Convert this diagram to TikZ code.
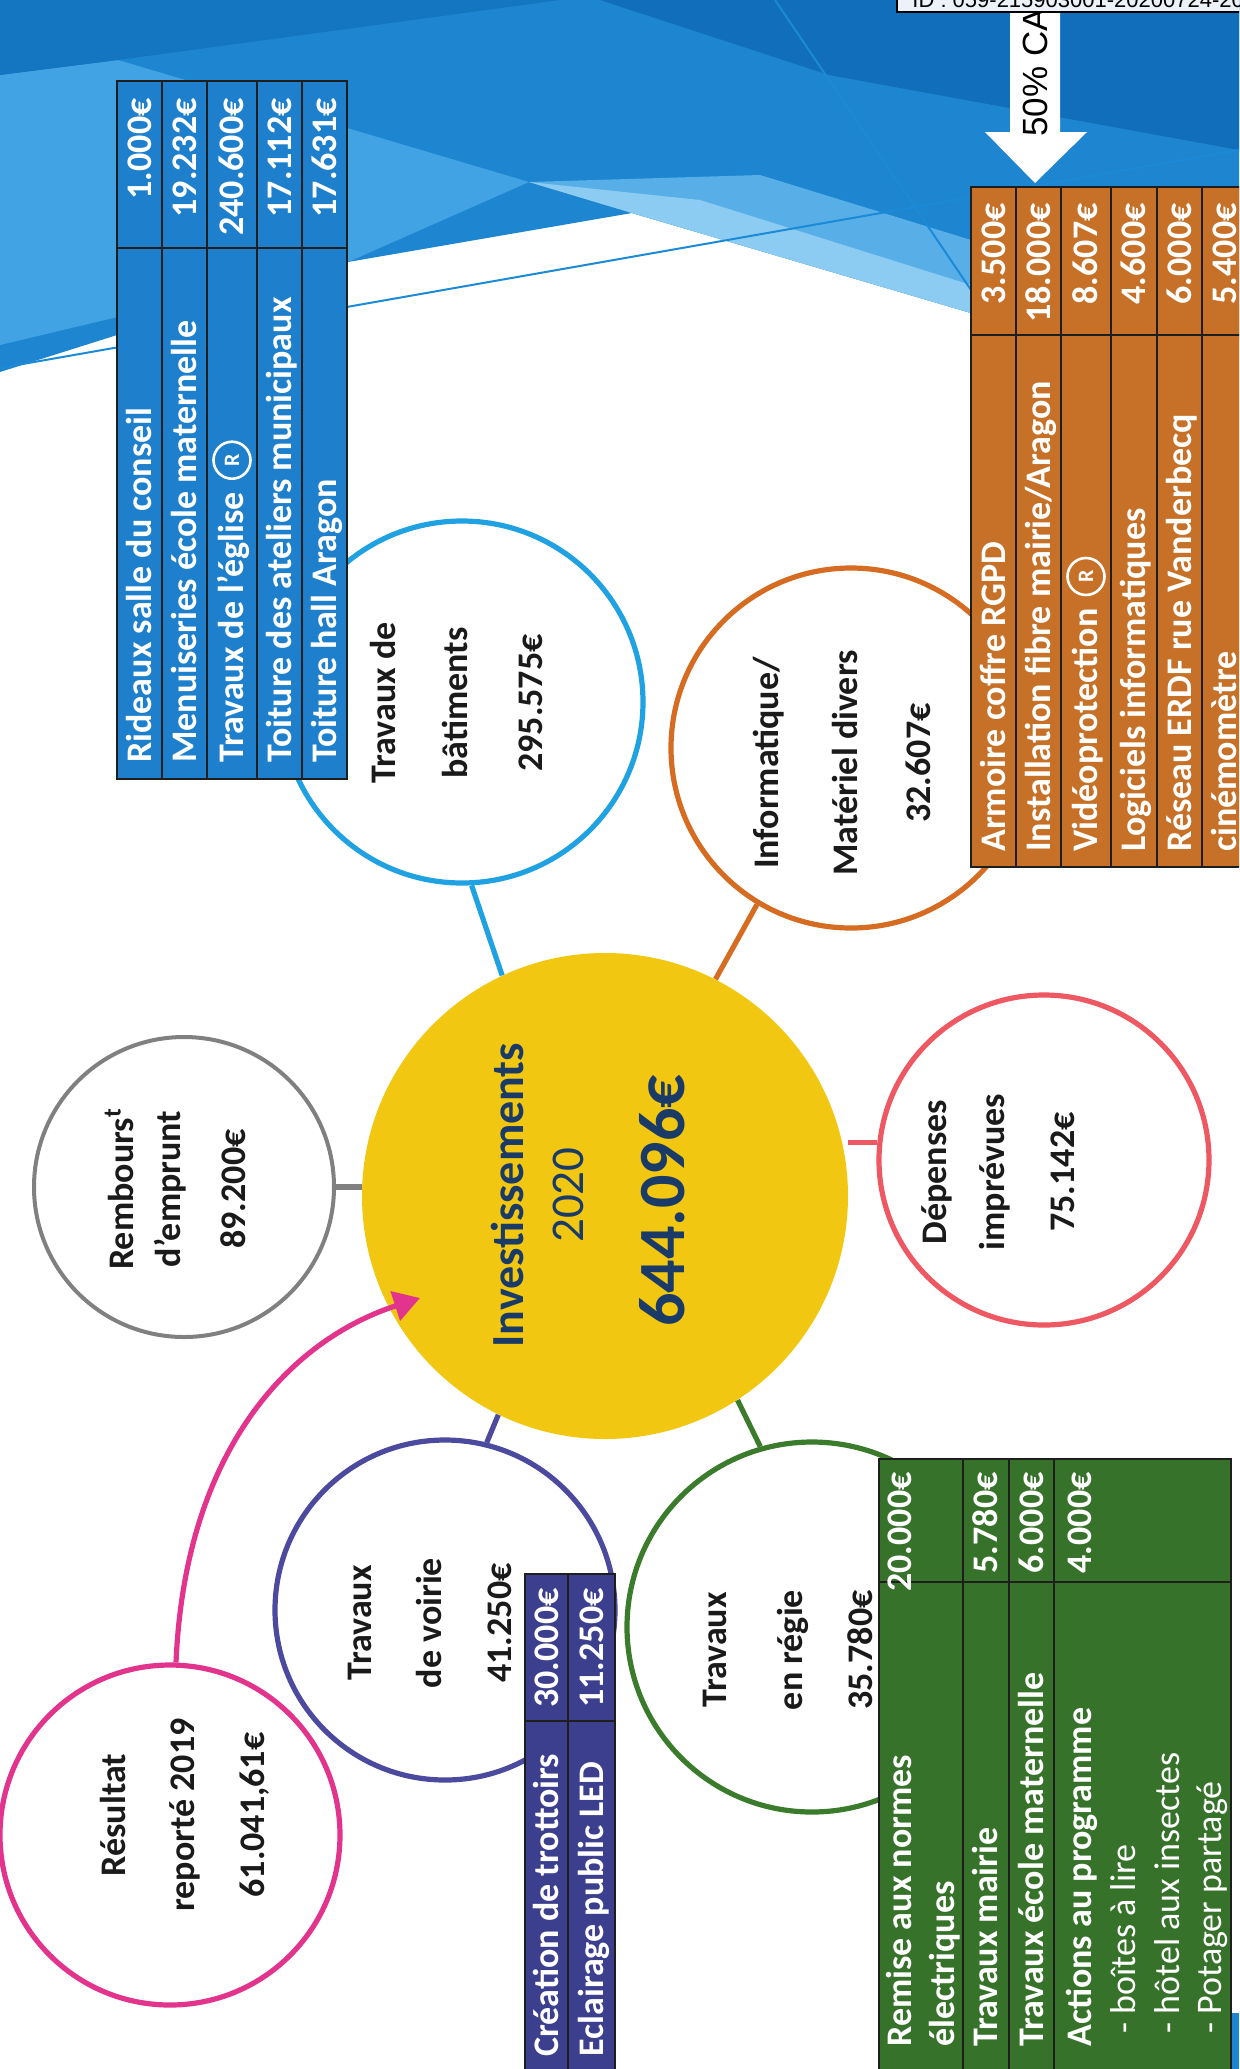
\documentclass[tikz,border=0pt]{standalone}
\usepackage{fontspec}
\setmainfont{Carlito}
\newfontfamily\sansarial{Liberation Sans}
\usetikzlibrary{calc,arrows.meta}

\definecolor{tblue}{RGB}{30,128,204}
\definecolor{torange}{RGB}{198,112,40}
\definecolor{tgreen}{RGB}{54,114,42}
\definecolor{tpurple}{RGB}{60,63,142}
\definecolor{cblue}{RGB}{32,162,226}
\definecolor{corange}{RGB}{214,108,34}
\definecolor{cred}{RGB}{238,88,98}
\definecolor{cgreen}{RGB}{58,124,44}
\definecolor{cpurple}{RGB}{76,74,158}
\definecolor{cmagenta}{RGB}{226,52,140}
\definecolor{cgray}{RGB}{128,128,128}
\definecolor{cyellow}{RGB}{241,199,18}
\definecolor{navy}{RGB}{26,58,104}
\definecolor{bgdark}{RGB}{16,110,186}
\definecolor{bgmid}{RGB}{30,134,208}
\definecolor{bglight}{RGB}{66,163,228}
\definecolor{bgpale}{RGB}{140,204,242}
\definecolor{bgline}{RGB}{28,138,214}
\definecolor{tline}{RGB}{30,30,30}
\definecolor{idfill}{RGB}{236,242,248}
\definecolor{ctext}{RGB}{26,26,26}

\newcommand\tabfont{\bfseries\fontsize{18}{22}\selectfont}
\newcommand\tabfontr{\fontsize{18}{22}\selectfont}
\newcommand\circfont{\bfseries\fontsize{18}{36}\selectfont}

\tikzset{
  cell/.style={rotate=90, inner sep=0pt, text=white, font=\tabfont, text height=11.6pt, text depth=0pt},
  lbl/.style={cell, anchor=west},
  lblr/.style={cell, anchor=west, font=\tabfontr},
  val/.style={cell, anchor=east},
  gridline/.style={draw=tline, line width=0.8pt},
  ring/.style={circle, draw=#1, line width=2.6pt, fill=white, inner sep=0pt},
  link/.style={draw=#1, line width=2.6pt},
  ctxt/.style={rotate=90, align=center, font=\circfont, text=ctext, inner sep=0pt},
  regmark/.style={circle, draw=white, line width=1.3pt, inner sep=0pt, minimum size=18.5pt, text=white, font=\bfseries\fontsize{11}{11}\selectfont, rotate=90, anchor=west},
}

\begin{document}
\begin{tikzpicture}[x=0.5pt,y=-0.5pt]
\useasboundingbox (0,0) rectangle (1239,2069);
\clip (0,0) rectangle (1239,2069);

% ---------- background ----------
\fill[bgmid] (0,0) -- (1239,0) -- (1239,340) -- (971,313) -- (632,213) -- (348,262) -- (0,372) -- cycle;
\fill[bglight] (0,75) -- (118,60) -- (529,182) -- (348,262) -- (0,345) -- cycle;
\fill[bglight!70!bgpale] (529,182) -- (760,175) -- (971,240) -- (971,313) -- (632,213) -- cycle;
\fill[bgpale] (529,182) -- (632,213) -- (971,313) -- (971,285) -- (700,200) -- cycle;
\fill[bgdark] (600,0) -- (1239,0) -- (1239,150) -- (829,75) -- cycle;
\fill[bgdark!70!bgmid] (0,0) -- (560,0) -- (118,60) -- (0,75) -- cycle;
\draw[bgline, line width=1pt] (0,368) -- (1239,150);
\draw[bgline, line width=1pt] (775,0) -- (971,290);
\fill[bgmid] (1225,2013) rectangle (1239,2069);

% ---------- circles ----------
\node[circle, fill=cyellow, inner sep=0pt, minimum size=243pt] (inv) at (605,1196) {};
\node[ring=cblue, minimum size=181pt] (bat) at (462,702) {};
\node[ring=corange, minimum size=180pt] (info) at (851,748) {};
\node[ring=cred, minimum size=165pt] (dep) at (1044,1160) {};
\node[ring=cgreen, minimum size=185pt] (regie) at (812,1627) {};
\node[ring=cpurple, minimum size=170pt] (voirie) at (445,1610) {};
\node[ring=cmagenta, minimum size=170pt] (res) at (170,1835) {};
\node[ring=cgray, line width=2pt, minimum size=150pt] (remb) at (184,1187) {};
\coordinate (arrtip) at (420,1298);

% ---------- connectors ----------
\draw[link=cblue] (bat.-87) -- (inv.115);
\draw[link=corange] (info.-121) -- (inv.63);
\draw[link=cred] (inv.east |- dep.174.8) -- (dep.174.8);
\draw[link=cgreen] (inv.-57.5) -- (regie.106);
\draw[link=cpurple] (inv.-116.5) -- (voirie.76);
\draw[link=cgray] (remb.east) -- (inv.west |- remb.east);
\draw[link=cmagenta, -{Triangle[length=13pt,width=15pt]}] (res.88) .. controls (185,1450) and (290,1340) .. (arrtip);

% ---------- circle texts ----------
\node[rotate=90, font=\bfseries\fontsize{23}{28}\selectfont, text=navy, inner sep=0pt, text height=14.8pt, text depth=0pt] (invt1) at (509,1195) {Investissements};
\node[rotate=90, font=\fontsize{23.5}{28}\selectfont, text=navy, inner sep=0pt, text height=14.8pt, text depth=0pt] (invt2) at (569,1195) {2020};
\node[rotate=90, font=\bfseries\fontsize{33}{40}\selectfont, text=navy, inner sep=0pt, text height=21pt, text depth=0pt] (invt3) at (663,1201) {644.096€};

\node[ctxt] (batt) at (456,703) {Travaux de\\bâtiments\\[1.5pt]295.575€};
\node[ctxt] (infot) at (842,763) {Informatique/\\[3.5pt]Matériel divers\\[0.5pt]32.607€};
\node[ctxt] (dept) at (998,1172) {Dépenses\\[-7pt]imprévues\\[-1pt]75.142€};
\node[ctxt] (regiet) at (788,1650) {Travaux\\[2pt]en régie\\[-1pt]35.780€};
\node[ctxt] (voiriet) at (430,1623) {Travaux\\[-1pt]de voirie\\[-1pt]41.250€};
\node[ctxt] (rest) at (185,1815) {Résultat\\[-1.5pt]reporté 2019\\[-1pt]61.041,61€};
\node[ctxt] (rembt) at (175,1189) {Rembours\textsuperscript{t}\\[-12.5pt]d’emprunt\\[-3.5pt]89.200€};

% ---------- blue table ----------
\fill[tblue] (117,81) rectangle (347,779);
\draw[gridline] (117,81) rectangle (347,779);
\foreach \xx in {162,207,257,302} \draw[gridline] (\xx,81) -- (\xx,779);
\draw[gridline] (117,248) -- (347,248);
\node[lbl] (b1) at (139.5,763) {Rideaux salle du conseil};
\node[lbl] (b2) at (184.5,763) {Menuiseries école maternelle};
\node[lbl] (b3) at (232,763) {Travaux de l’église};
\node[regmark] (b3r) at ($(b3.east)+(0,-12)$) {R};
\node[lbl] (b4) at (279.5,763) {Toiture des ateliers municipaux};
\node[lbl] (b5) at (324.5,763) {Toiture hall Aragon};
\node[val] (b1v) at (139.5,98) {1.000€};
\node[val] (b2v) at (184.5,98) {19.232€};
\node[val] (b3v) at (232,98) {240.600€};
\node[val] (b4v) at (279.5,98) {17.112€};
\node[val] (b5v) at (324.5,98) {17.631€};

% ---------- orange table ----------
\fill[torange] (971,187) rectangle (1247,867);
\draw[gridline] (971,187) rectangle (1247,867);
\foreach \xx in {1016,1061,1111,1157,1202} \draw[gridline] (\xx,187) -- (\xx,867);
\draw[gridline] (971,335) -- (1247,335);
\node[lbl] (o1) at (993.5,852) {Armoire coffre RGPD};
\node[lbl] (o2) at (1038.5,852) {Installation fibre mairie/Aragon};
\node[lbl] (o3) at (1086,852) {Vidéoprotection};
\node[regmark] (o3r) at ($(o3.east)+(0,-12)$) {R};
\node[lbl] (o4) at (1134,852) {Logiciels informatiques};
\node[lbl] (o5) at (1179.5,852) {Réseau ERDF rue Vanderbecq};
\node[lbl] (o6) at (1224.5,852) {cinémomètre};
\node[val] (o1v) at (993.5,203) {3.500€};
\node[val] (o2v) at (1038.5,203) {18.000€};
\node[val] (o3v) at (1086,203) {8.607€};
\node[val] (o4v) at (1134,203) {4.600€};
\node[val] (o5v) at (1179.5,203) {6.000€};
\node[val] (o6v) at (1224.5,203) {5.400€};

% ---------- green table ----------
\fill[tgreen] (879,1459) rectangle (1231,2080);
\draw[gridline] (879,1459) rectangle (1231,2080);
\foreach \xx in {963,1009,1054} \draw[gridline] (\xx,1459) -- (\xx,2080);
\draw[gridline] (879,1582) -- (1231,1582);
\node[lbl] (g1a) at (900,2047) {Remise aux normes};
\node[lbl] (g1b) at (943,2047) {électriques};
\node[lbl] (g2) at (986,2047) {Travaux mairie};
\node[lbl] (g3) at (1031.5,2047) {Travaux école maternelle};
\node[lbl] (g4a) at (1080,2047) {Actions au programme};
\node[lblr] (g4b) at (1124,2034) {- boîtes à lire};
\node[lblr] (g4c) at (1168,2034) {- hôtel aux insectes};
\node[lblr] (g4d) at (1210,2034) {- Potager partagé};
\node[val] (g1v) at (900,1472) {20.000€};
\node[val] (g2v) at (986,1472) {5.780€};
\node[val] (g3v) at (1031.5,1472) {6.000€};
\node[val] (g4v) at (1080,1472) {4.000€};

% ---------- purple table ----------
\fill[tpurple] (525,1574) rectangle (615,2080);
\draw[gridline] (525,1574) rectangle (615,2080);
\draw[gridline] (568,1574) -- (568,2080);
\draw[gridline] (525,1721) -- (615,1721);
\node[lbl] (p1) at (546.5,2057) {Création de trottoirs};
\node[lbl] (p2) at (591.5,2057) {Eclairage public LED};
\node[val] (p1v) at (546.5,1588) {30.000€};
\node[val] (p2v) at (591.5,1588) {11.250€};

% ---------- 50% CAV arrow and ID box ----------
\fill[white] (1010,-5) -- (1060,-5) -- (1060,132) -- (1087,132) -- (1035,183) -- (985,132) -- (1010,132) -- cycle;
\node[rotate=90, anchor=west, inner sep=0pt, font=\sansarial\fontsize{17.5}{20}\selectfont, text=black, text height=12.5pt, text depth=0pt] (cav) at (1035,137) {50\% CAV};
\draw[fill=idfill, draw=black, line width=1pt] (897,-40) rectangle (1260,12);
\node[anchor=base west, inner sep=0pt, font=\sansarial\fontsize{11}{12}\selectfont, text=black] (idt) at (912,7) {ID : 059-215903001-20200724-2020072};
\end{tikzpicture}
\end{document}
